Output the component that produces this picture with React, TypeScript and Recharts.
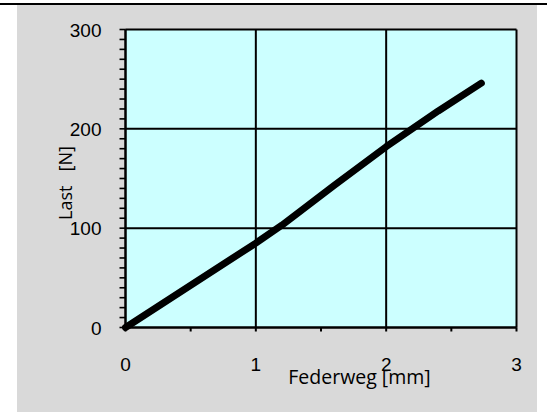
import React from "react";
import { LineChart, Line, XAxis, YAxis, CartesianGrid } from "recharts";

const federweg = [0, 1, 1.2, 1.6, 2, 2.4, 2.73];
const last = [0, 85, 103, 143, 182, 218, 246];
const xTicks = [0, 0.5, 1, 1.5, 2, 2.5, 3];
const xLabels = [0, 1, 2, 3];
const yTicks = Array.from({ length: 31 }, (_, i) => i * 10);
const yLabels = [0, 100, 200, 300];
const xTitle = "Federweg [mm]";
const yTitle = "Last   [N]";

const data = federweg.map((x, i) => ({ x, y: last[i] }));

const XTick = (props: any) => {
  const { x, y, payload } = props;
  const v = payload.value;
  const show = xLabels.includes(v);
  return (
    <g>
      <line x1={x} x2={x} y1={y} y2={y + 4} stroke="#000" strokeWidth={2} />
      {show && (
        <text x={x} y={y + 43} textAnchor="middle" fontFamily="Liberation Sans, Arial, sans-serif" fontSize={19} fill="#000">
          {v}
        </text>
      )}
    </g>
  );
};

const YTick = (props: any) => {
  const { x, y, payload } = props;
  const v = payload.value;
  const show = yLabels.includes(v);
  return (
    <g>
      <line x1={x - 6} x2={x} y1={y} y2={y} stroke="#000" strokeWidth={1.6} />
      {show && (
        <text x={x - 24} y={y + 7} textAnchor="end" fontFamily="Liberation Sans, Arial, sans-serif" fontSize={19} fill="#000">
          {v}
        </text>
      )}
    </g>
  );
};

export default function App() {
  return (
    <div style={{ position: "absolute", left: 0, top: 0, width: 547, height: 412, background: "#fff" }}>
      <div style={{ position: "absolute", left: 0, top: 2.5, width: 547, height: 2.5, background: "#000" }} />
      <div style={{ position: "absolute", left: 17, top: 5, width: 520, height: 407, background: "#d9d9d9" }} />
      <div style={{ position: "absolute", left: 0, top: 0 }}>
        <LineChart width={547} height={412} data={data} margin={{ top: 29.5, right: 30.5, bottom: 0, left: 0 }}>
          <CartesianGrid
            fill="#ccffff"
            fillOpacity={1}
            stroke="#000"
            strokeWidth={2}
            horizontalValues={yLabels}
            verticalValues={xLabels}
          />
          <XAxis
            dataKey="x"
            type="number"
            domain={[0, 3]}
            ticks={xTicks}
            interval={0}
            height={84.5}
            tickSize={0}
            tickMargin={0}
            tick={XTick}
            axisLine={{ stroke: "#000", strokeWidth: 2 }}
            tickLine={false}
          />
          <YAxis
            type="number"
            domain={[0, 300]}
            ticks={yTicks}
            interval={0}
            width={125.5}
            tickSize={0}
            tickMargin={0}
            tick={YTick}
            axisLine={{ stroke: "#000", strokeWidth: 2 }}
            tickLine={false}
          />
          <Line
            dataKey="y"
            type="linear"
            stroke="#000"
            strokeWidth={7}
            strokeLinecap="round"
            strokeLinejoin="round"
            dot={false}
            isAnimationActive={false}
          />
        </LineChart>
      </div>
      <svg style={{ position: "absolute", left: 0, top: 0, pointerEvents: "none" }} width={547} height={412}>
        <text
          x={359.5}
          y={384}
          textAnchor="middle"
          fontFamily="Open Sans, sans-serif"
          fontSize={19.5}
          fill="#000"
        >
          {xTitle}
        </text>
        <text
          x={72}
          y={183}
          transform="rotate(-90 72 183)"
          textAnchor="middle"
          fontFamily="Open Sans, sans-serif"
          fontSize={18}
          fill="#000"
          style={{ whiteSpace: "pre" }}
        >
          {yTitle}
        </text>
      </svg>
    </div>
  );
}
